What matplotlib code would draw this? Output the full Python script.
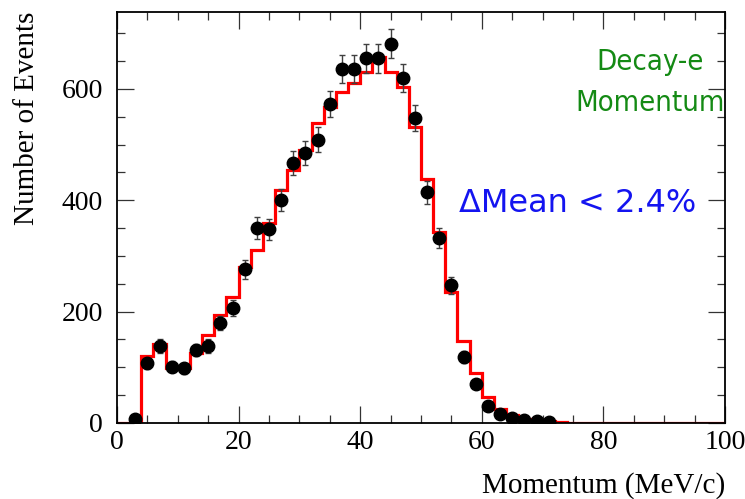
import numpy as np
import matplotlib.pyplot as plt
from matplotlib.ticker import MultipleLocator

# data points (bin centres, MeV/c) and counts
mom = [3, 5, 7, 9, 11, 13, 15, 17, 19, 21, 23, 25, 27, 29, 31, 33, 35, 37,
       39, 41, 43, 45, 47, 49, 51, 53, 55, 57, 59, 61, 63, 65, 67, 69, 71]
counts = [8, 107, 138, 101, 98, 131, 138, 180, 206, 276, 350, 348, 401, 467,
          485, 509, 573, 636, 636, 655, 655, 681, 619, 548, 414, 333, 247,
          118, 70, 31, 16, 9, 6, 3, 2]
errs = [3, 10, 12, 10, 10, 11, 12, 13, 14, 17, 19, 19, 20, 22, 22, 23, 24, 25,
        25, 26, 26, 26, 25, 23, 20, 18, 16, 11, 8, 6, 4, 3, 2, 2, 1]

# simulation histogram, 2 MeV/c bins from 0 to 100
edges = np.arange(0, 102, 2)
mc = [0, 0, 120, 142, 99, 99, 125, 158, 194, 226, 281, 311, 360, 419, 454,
      490, 539, 568, 595, 610, 631, 658, 631, 603, 532, 438, 343, 236, 148,
      89, 47, 25, 14, 8, 5, 3, 1, 0, 0, 0, 0, 0, 0, 0, 0, 0, 0, 0, 0, 0]

serif = 'Liberation Serif'

fig = plt.figure(figsize=(7.45, 4.99), dpi=100)
ax = fig.add_axes([117/745, 76/499, 608/745, 411/499])

ax.stairs(mc, edges, color='red', lw=2.3, zorder=2)
ax.errorbar(mom, counts, yerr=errs, fmt='o', color='black', ms=9,
            ecolor='0.25', elinewidth=1, capsize=2, zorder=3)

ax.set_xlim(0, 100)
ax.set_ylim(0, 738)
ax.xaxis.set_major_locator(MultipleLocator(20))
ax.xaxis.set_minor_locator(MultipleLocator(5))
ax.yaxis.set_major_locator(MultipleLocator(200))
ax.yaxis.set_minor_locator(MultipleLocator(50))
ax.tick_params(which='both', direction='in', top=True, right=True, width=0.9, color='0.2')
ax.tick_params(which='major', length=12, labelsize=20)
ax.tick_params(which='minor', length=6)
ax.tick_params(axis='x', which='major', pad=5)
ax.tick_params(axis='y', which='major', pad=10)
for lab in ax.get_xticklabels() + ax.get_yticklabels():
    lab.set_fontfamily(serif)
for s in ax.spines.values():
    s.set_linewidth(1.3)

ax.set_xlabel('Momentum (MeV/c)', fontsize=21, family=serif, loc='right', labelpad=12)
ax.set_ylabel('Number of Events', fontsize=21, family=serif, loc='top', labelpad=16)

ax.text(0.876, 0.878, 'Decay-e', color='#148a14', fontsize=21, fontstretch='condensed',
        ha='center', va='center', transform=ax.transAxes)
ax.text(0.876, 0.779, 'Momentum', color='#148a14', fontsize=21, fontstretch='condensed',
        ha='center', va='center', transform=ax.transAxes)
ax.text(0.757, 0.535, '\u0394Mean < 2.4%', color='#1414f0', fontsize=23, ha='center', va='center',
        transform=ax.transAxes)

fig.savefig('out.png', dpi=100)
